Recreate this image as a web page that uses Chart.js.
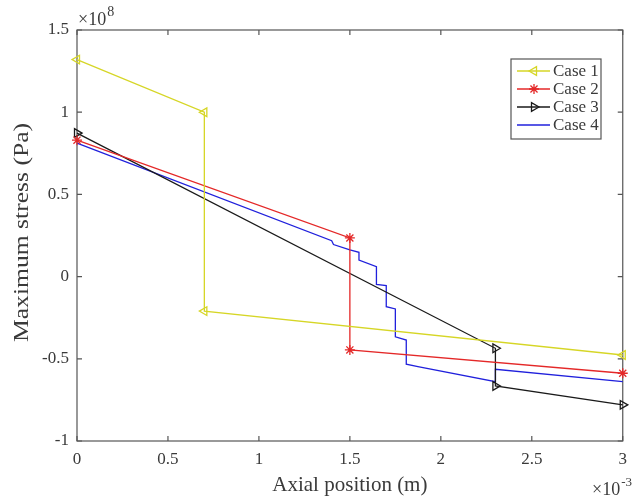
<!DOCTYPE html>
<html>
<head>
<meta charset="utf-8">
<script src="https://cdn.jsdelivr.net/npm/chart.js@4.4.1/dist/chart.umd.min.js"></script>
<style>
  html, body { margin: 0; padding: 0; background: #fff; }
  #wrap { width: 635px; height: 500px; }
</style>
</head>
<body>
<div id="wrap"><canvas id="c" width="635" height="500"></canvas></div>
<script>
// Axial position in units of 1e-3 m, stress in units of 1e8 Pa
const seriesNames = ['Case 1', 'Case 2', 'Case 3', 'Case 4'];

const case1Pos    = [0, 0.7, 0.7, 3];
const case1Stress = [1.32, 1.00, -0.21, -0.477];

const case2Pos    = [0, 1.5, 1.5, 3];
const case2Stress = [0.83, 0.235, -0.446, -0.588];

const case3Pos    = [0, 2.3, 2.3, 3];
const case3Stress = [0.873, -0.436, -0.665, -0.78];

const case4Pos    = [0, 1.40, 1.41, 1.50, 1.55, 1.55, 1.646, 1.646, 1.70, 1.70, 1.75, 1.75, 1.81, 1.81, 1.874, 2.3, 2.3, 3];
const case4Stress = [0.812, 0.218, 0.195, 0.162, 0.148, 0.101, 0.060, -0.047, -0.055, -0.183, -0.197, -0.366, -0.386, -0.533, -0.548, -0.639, -0.564, -0.639];

const xTicks = [0, 0.5, 1, 1.5, 2, 2.5, 3];
const yTicks = [-1, -0.5, 0, 0.5, 1, 1.5];

const SERIF = "'Liberation Serif', 'Times New Roman', serif";
const TEXT = '#3a3a3a';
const AXIS = '#555555';

function pairs(xs, ys) { return xs.map((x, i) => ({ x: x, y: ys[i] })); }

const styles = [
  { color: 'rgb(214,214,38)', pointStyle: 'triangle', rot: -90, r: 5 },
  { color: 'rgb(228,40,40)',  pointStyle: 'star',     rot: 0,   r: 5 },
  { color: 'rgb(26,26,26)',   pointStyle: 'triangle', rot: 90,  r: 5 },
  { color: 'rgb(32,32,220)',  pointStyle: false,      rot: 0,   r: 0 }
];
const seriesData = [
  pairs(case1Pos, case1Stress),
  pairs(case2Pos, case2Stress),
  pairs(case3Pos, case3Stress),
  pairs(case4Pos, case4Stress)
];

const datasets = seriesNames.map((name, i) => ({
  label: name,
  data: seriesData[i],
  borderColor: styles[i].color,
  borderWidth: 1.3,
  backgroundColor: 'rgba(0,0,0,0)',
  pointBorderColor: styles[i].color,
  pointBackgroundColor: 'rgba(0,0,0,0)',
  pointBorderWidth: 1.3,
  pointStyle: styles[i].pointStyle || 'circle',
  pointRadius: styles[i].r,
  pointRotation: styles[i].rot,
  pointHoverRadius: styles[i].r,
  tension: 0,
  fill: false,
  clip: false
}));

// Axes box with inward tick marks on all four sides
const boxPlugin = {
  id: 'box',
  beforeDatasetsDraw(chart) {
    const { ctx, chartArea: a, scales } = chart;
    ctx.save();
    ctx.strokeStyle = AXIS;
    ctx.lineWidth = 1.2;
    ctx.strokeRect(a.left, a.top, a.right - a.left, a.bottom - a.top);
    const tl = 5;
    ctx.beginPath();
    xTicks.forEach(v => {
      const px = scales.x.getPixelForValue(v);
      ctx.moveTo(px, a.bottom); ctx.lineTo(px, a.bottom - tl);
      ctx.moveTo(px, a.top);    ctx.lineTo(px, a.top + tl);
    });
    yTicks.forEach(v => {
      const py = scales.y.getPixelForValue(v);
      ctx.moveTo(a.left, py);  ctx.lineTo(a.left + tl, py);
      ctx.moveTo(a.right, py); ctx.lineTo(a.right - tl, py);
    });
    ctx.stroke();
    ctx.restore();
  }
};

// Axis titles and the exponent labels
const labelPlugin = {
  id: 'labels',
  afterDraw(chart) {
    const { ctx, chartArea: a } = chart;
    ctx.save();
    ctx.fillStyle = TEXT;
    ctx.font = '21px ' + SERIF;
    ctx.textAlign = 'center';
    ctx.textBaseline = 'middle';
    ctx.fillText('Axial position (m)', (a.left + a.right) / 2, 485);
    ctx.save();
    ctx.translate(22, (a.top + a.bottom) / 2 - 3);
    ctx.rotate(-Math.PI / 2);
    ctx.scale(1.22, 1);
    ctx.fillText('Maximum stress (Pa)', 0, 0);
    ctx.restore();

    ctx.textAlign = 'left';
    ctx.textBaseline = 'alphabetic';
    // ×10^8 above the y axis
    ctx.font = '18px ' + SERIF;
    ctx.fillText('\u00d710', a.left + 1, 25);
    let w = ctx.measureText('\u00d710').width;
    ctx.font = '14px ' + SERIF;
    ctx.fillText('8', a.left + 2 + w, 16);
    // ×10^-3 at the end of the x axis
    ctx.font = '18px ' + SERIF;
    ctx.fillText('\u00d710', 592, 495);
    w = ctx.measureText('\u00d710').width;
    ctx.font = '13px ' + SERIF;
    ctx.fillText('-3', 593 + w, 486);
    ctx.restore();
  }
};

// Boxed legend in the upper right of the plot area
const legendPlugin = {
  id: 'boxLegend',
  afterDatasetsDraw(chart) {
    const { ctx } = chart;
    const bx = 511, by = 59, bw = 90, bh = 80;
    ctx.save();
    ctx.fillStyle = '#ffffff';
    ctx.fillRect(bx, by, bw, bh);
    ctx.strokeStyle = AXIS;
    ctx.lineWidth = 1.2;
    ctx.strokeRect(bx, by, bw, bh);
    const rows = [71, 89, 107, 125];
    chart.data.datasets.forEach((ds, i) => {
      const y = rows[i];
      ctx.strokeStyle = ds.borderColor;
      ctx.lineWidth = 1.3;
      ctx.beginPath();
      ctx.moveTo(517, y); ctx.lineTo(550, y);
      ctx.stroke();
      if (ds.pointRadius > 0 && Chart.helpers && Chart.helpers.drawPoint) {
        ctx.fillStyle = 'rgba(0,0,0,0)';
        Chart.helpers.drawPoint(ctx, {
          pointStyle: ds.pointStyle,
          rotation: ds.pointRotation,
          radius: ds.pointRadius,
          borderWidth: ds.pointBorderWidth
        }, 534, y);
      }
      ctx.fillStyle = TEXT;
      ctx.font = '17px ' + SERIF;
      ctx.textAlign = 'left';
      ctx.textBaseline = 'middle';
      ctx.fillText(ds.label, 553, y + 1);
    });
    ctx.restore();
  }
};

new Chart(document.getElementById('c'), {
  type: 'line',
  data: { datasets: datasets },
  options: {
    responsive: false,
    animation: false,
    devicePixelRatio: 1,
    layout: { padding: { left: 0, right: 9, top: 30, bottom: 0 } },
    plugins: { legend: { display: false }, tooltip: { enabled: false } },
    scales: {
      x: {
        type: 'linear', min: 0, max: 3,
        afterBuildTicks: s => { s.ticks = xTicks.map(v => ({ value: v })); },
        afterFit: s => { s.height = 59; },
        grid: { display: false, drawTicks: false },
        border: { display: false },
        ticks: {
          autoSkip: false, maxRotation: 0, padding: 8, color: TEXT,
          font: { family: SERIF, size: 17 },
          callback: v => String(v)
        }
      },
      y: {
        type: 'linear', min: -1, max: 1.5,
        afterBuildTicks: s => { s.ticks = yTicks.map(v => ({ value: v })); },
        afterFit: s => { s.width = 77; },
        grid: { display: false, drawTicks: false },
        border: { display: false },
        ticks: {
          autoSkip: false, padding: 8, color: TEXT,
          font: { family: SERIF, size: 17 },
          callback: v => String(v)
        }
      }
    }
  },
  plugins: [boxPlugin, legendPlugin, labelPlugin]
});
</script>
</body>
</html>
